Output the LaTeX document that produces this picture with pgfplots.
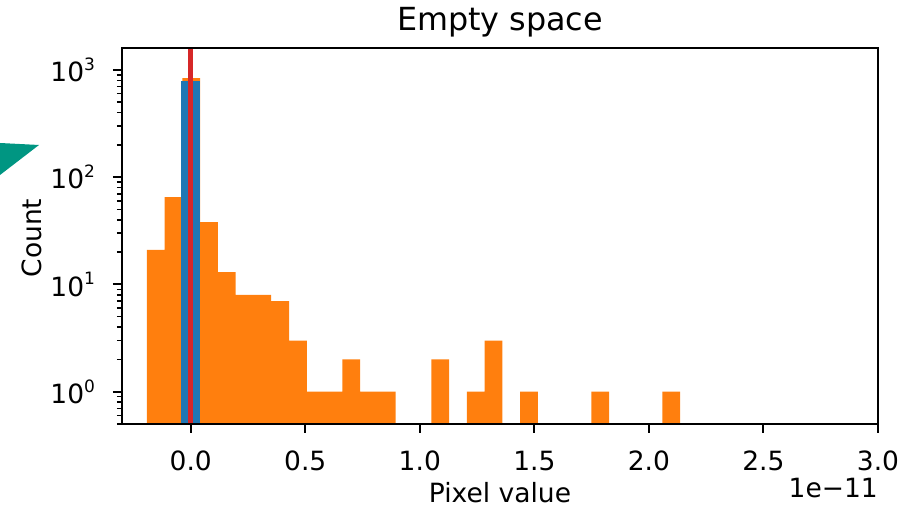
\documentclass[border=0pt]{standalone}
\usepackage{pgfplots}
\pgfplotsset{compat=1.18}
\usepackage{fontspec}
\setmainfont{DejaVu Sans}
\definecolor{mplorange}{HTML}{FF7F0E}
\definecolor{mplblue}{HTML}{1F77B4}
\definecolor{mplred}{HTML}{D62728}
\definecolor{tealtri}{RGB}{0,150,130}
\newcommand\tp[1]{10\raisebox{0.42em}{\fontsize{17}{17}\selectfont #1}}
\pgfplotstableread{
x y
-0.1919 21
-0.1143 65
-0.0367 838
0.0409 38
0.1186 13
0.1962 8
0.2738 8
0.3514 7
0.4291 3
0.5067 1
0.5843 1
0.6619 2
0.7395 1
0.8172 1
0.8948 0.01
0.9724 0.01
1.0500 2
1.1276 0.01
1.2053 1
1.2829 3
1.3605 0.01
1.4381 1
1.5157 0.01
1.5934 0.01
1.6710 0.01
1.7486 1
1.8262 0.01
1.9038 0.01
1.9815 0.01
2.0591 1
2.1367 1
}\orangehist
\begin{document}
\fontsize{26.5}{30}\selectfont
\begin{tikzpicture}[x=1pt,y=1pt]
\fill[tealtri] (0,365) -- (39,363) -- (0,333) -- cycle;
\begin{axis}[
  at={(122pt,84pt)}, anchor=south west, scale only axis,
  width=756pt, height=376pt,
  xmin=-0.3, xmax=3.0, ymode=log, ymin=0.5, ymax=1600, log origin y=infty,
  axis on top,
  axis line style={line width=2pt, black},
  tick align=outside, major tick length=9pt, minor tick length=5pt,
  every tick/.style={line width=2pt, black},
  minor tick style={line width=1.5pt, black},
  xtick pos=bottom, ytick pos=left,
  xtick={0,0.5,1,1.5,2,2.5,3},
  xticklabels={0.0,0.5,1.0,1.5,2.0,2.5,3.0},
  ytick={1,10,100,1000},
  yticklabels={\tp{0},\tp{1},\tp{2},\tp{3}},
  minor ytick={0.5,0.6,0.7,0.8,0.9,2,3,4,5,6,7,8,9,20,30,40,50,60,70,80,90,200,300,400,500,600,700,800,900},
  tick label style={font=\fontsize{26.5}{30}\selectfont},
  xticklabel style={yshift=-9pt},
  yticklabel style={xshift=-9pt},
  minor xtick={},
]
\addplot[ybar interval, fill=mplorange, draw=none] table[x=x,y=y] {\orangehist};
\addplot[ybar interval, fill=mplblue, draw=none] coordinates {(-0.042,795) (0.039,795)};
\addplot[mplred, line width=5pt] coordinates {(0,0.5) (0,1600)};
\end{axis}
\node[anchor=base, font=\fontsize{31.8}{36}\selectfont] at (500,477.3) {Empty space};
\node[anchor=base] at (500,5) {Pixel value};
\node[anchor=base east, inner sep=0pt] at (878,10) {1e−11};
\node[anchor=base, rotate=90, inner sep=0pt] at (41.7,270) {Count};
\pgfresetboundingbox
\useasboundingbox (0,0) rectangle (906,508);
\end{tikzpicture}
\end{document}
